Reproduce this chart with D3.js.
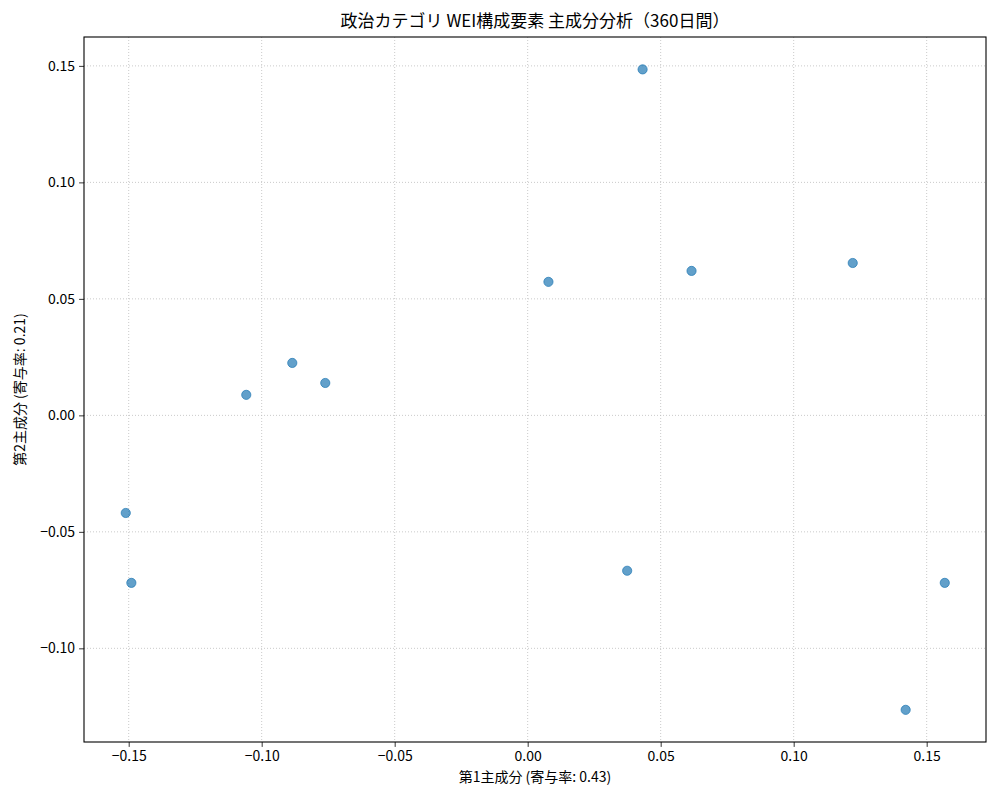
<!DOCTYPE html>
<html>
<head>
<meta charset="utf-8">
<script src="https://cdn.jsdelivr.net/npm/d3@7"></script>
<style>
  body { margin: 0; background: #fff; }
  text { font-family: "Noto Sans CJK JP", "DejaVu Sans", sans-serif; fill: #000; }
</style>
</head>
<body>
<svg id="chart" width="1000" height="800"></svg>
<script>
// PCA scores
var pc1 = [0.0432, 0.0078, 0.0616, 0.1222, -0.0885, -0.0761, -0.1058, -0.1511, -0.1490, 0.0374, 0.1568, 0.1421];
var pc2 = [0.1485, 0.0573, 0.0620, 0.0654, 0.0225, 0.0139, 0.0088, -0.0419, -0.0719, -0.0667, -0.0719, -0.1264];
var xTicks = [-0.15, -0.10, -0.05, 0.00, 0.05, 0.10, 0.15];
var yTicks = [-0.10, -0.05, 0.00, 0.05, 0.10, 0.15];
var titleText = "政治カテゴリ WEI構成要素 主成分分析（360日間）";
var xLabel = "第1主成分 (寄与率: 0.43)";
var yLabel = "第2主成分 (寄与率: 0.21)";

var margin = {top: 37, right: 14, bottom: 58, left: 84},
    width = 1000 - margin.left - margin.right,
    height = 800 - margin.top - margin.bottom;

var svg = d3.select("#chart");
var g = svg.append("g")
    .attr("transform", "translate(" + margin.left + "," + margin.top + ")");

var x = d3.scaleLinear().domain([-0.1668, 0.1723]).range([0, width]);
var y = d3.scaleLinear().domain([-0.1402, 0.1624]).range([height, 0]);
var fmt = d3.format(".2f");

// grid
g.append("g").selectAll("line").data(xTicks).enter().append("line")
    .attr("x1", function(d) { return x(d); }).attr("x2", function(d) { return x(d); })
    .attr("y1", 0).attr("y2", height)
    .attr("stroke", "#bdbdbd").attr("stroke-width", 0.8).attr("stroke-dasharray", "1,2");
g.append("g").selectAll("line").data(yTicks).enter().append("line")
    .attr("y1", function(d) { return y(d); }).attr("y2", function(d) { return y(d); })
    .attr("x1", 0).attr("x2", width)
    .attr("stroke", "#bdbdbd").attr("stroke-width", 0.8).attr("stroke-dasharray", "1,2");

// points
g.append("g").selectAll("circle").data(pc1).enter().append("circle")
    .attr("cx", function(d) { return x(d); })
    .attr("cy", function(d, i) { return y(pc2[i]); })
    .attr("r", 4.6)
    .attr("fill", "#1f77b4").attr("fill-opacity", 0.7)
    .attr("stroke", "#1f77b4").attr("stroke-opacity", 0.7).attr("stroke-width", 1);

// axes
var xAxis = g.append("g")
    .attr("transform", "translate(0," + height + ")")
    .call(d3.axisBottom(x).tickValues(xTicks).tickFormat(fmt).tickSizeOuter(0).tickSize(4.9).tickPadding(4));
var yAxis = g.append("g")
    .call(d3.axisLeft(y).tickValues(yTicks).tickFormat(fmt).tickSizeOuter(0).tickSize(4.9).tickPadding(4));
[xAxis, yAxis].forEach(function(a) {
  a.select(".domain").remove();
  a.selectAll("text").style("font-size", "14px").attr("fill", "#000");
  a.selectAll("line").attr("stroke", "#000").attr("stroke-width", 0.8);
});

// frame
g.append("rect")
    .attr("width", width).attr("height", height)
    .attr("fill", "none").attr("stroke", "#000").attr("stroke-width", 1.1);

// labels
svg.append("text")
    .attr("x", margin.left + width / 2).attr("y", 27)
    .attr("text-anchor", "middle").style("font-size", "17px")
    .text(titleText);
svg.append("text")
    .attr("x", margin.left + width / 2).attr("y", 782)
    .attr("text-anchor", "middle").style("font-size", "14px")
    .text(xLabel);
svg.append("text")
    .attr("transform", "translate(25," + (margin.top + height / 2) + ") rotate(-90)")
    .attr("text-anchor", "middle").style("font-size", "14px")
    .text(yLabel);
</script>
</body>
</html>
